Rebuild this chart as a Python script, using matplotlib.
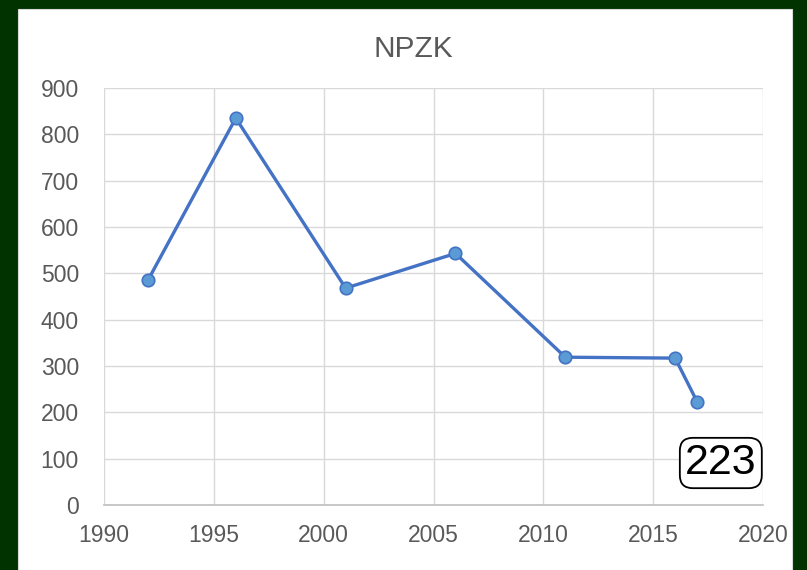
import matplotlib
matplotlib.use("Agg")
import matplotlib.pyplot as plt
from matplotlib.patches import Rectangle

years = [1992, 1996, 2001, 2006, 2011, 2016, 2017]
values = [485, 835, 468, 543, 319, 317, 223]
title = "NPZK"
label_text = "223"

W, H = 807, 570
fig = plt.figure(figsize=(W / 100, H / 100), dpi=100)
fig.patch.set_facecolor("#003300")
bg = Rectangle((18 / W, 0), (792 - 18) / W, (H - 9) / H,
               transform=fig.transFigure, facecolor="white",
               edgecolor="#d9d9d9", linewidth=0.8, zorder=-10)
fig.add_artist(bg)

ax = fig.add_axes([104 / W, 1 - 505 / H, (763 - 104) / W, (505 - 88) / H])
ax.set_zorder(1)
ax.set_facecolor("none")
ax.plot(years, values, color="#4472C4", linewidth=2.4, marker="o",
        markersize=9, markerfacecolor="#5B9BD5", markeredgecolor="#4472C4",
        markeredgewidth=1.2, zorder=3)

ax.set_xlim(1990, 2020)
ax.set_ylim(0, 900)
ax.set_xticks(range(1990, 2021, 5))
ax.set_yticks(range(0, 901, 100))
ax.grid(True, color="#d9d9d9", linewidth=1)
ax.set_axisbelow(True)
for s in ["top", "right", "left"]:
    ax.spines[s].set_visible(False)
ax.spines["bottom"].set_color("#bfbfbf")
ax.spines["bottom"].set_linewidth(1.2)
ax.tick_params(length=0, labelsize=16.5, labelcolor="#595959")
ax.tick_params(axis="x", pad=14)
ax.tick_params(axis="y", pad=18)
for lab in ax.get_xticklabels() + ax.get_yticklabels():
    lab.set_family("Liberation Sans")

fig.text(413 / W, 1 - 49 / H, title, ha="center", va="center",
         fontsize=21.5, color="#595959", family="Liberation Sans")

ax.text(0.936, 0.1007, label_text, transform=ax.transAxes, ha="center",
        va="center", fontsize=31, color="black", family="Liberation Sans",
        bbox=dict(boxstyle="round,pad=0.12,rounding_size=0.3",
                  facecolor="white", edgecolor="black", linewidth=1.3),
        zorder=5)

fig.savefig("out.png", dpi=100, facecolor=fig.get_facecolor())
